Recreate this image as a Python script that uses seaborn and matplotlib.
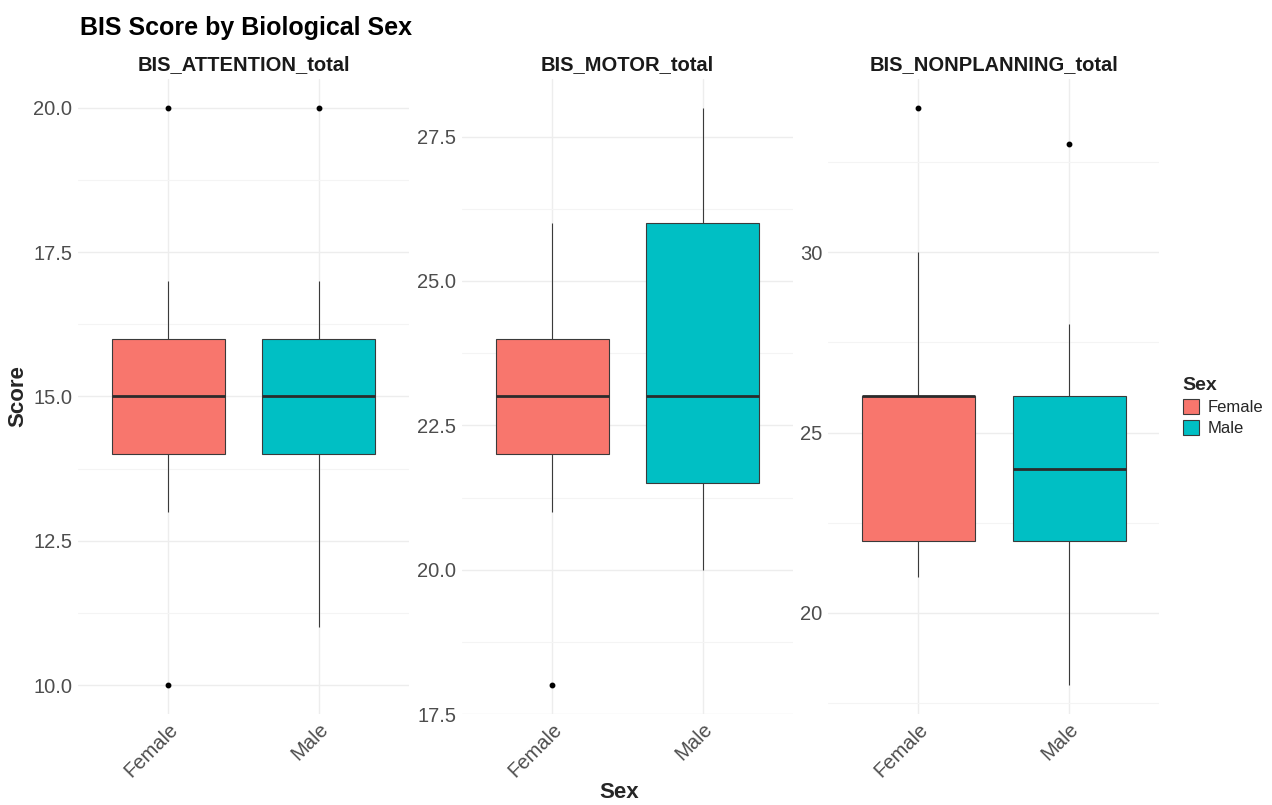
import matplotlib.pyplot as plt
import numpy as np
import pandas as pd
import seaborn as sb
from matplotlib.patches import Patch
from matplotlib.ticker import MultipleLocator, FormatStrFormatter

# raw scores (quartiles, whiskers, outliers)
measures = ["BIS_ATTENTION_total", "BIS_MOTOR_total", "BIS_NONPLANNING_total"]
sexes = ["Female", "Male"]
attention_female = [10, 13, 14, 14, 15, 15, 15, 16, 16, 17, 20]
attention_male = [11, 14, 14, 14, 15, 15, 15, 16, 16, 17, 20]
motor_female = [18, 21, 22, 22, 23, 23, 23, 24, 24, 25, 26]
motor_male = [20, 21, 21, 22, 23, 23, 24, 26, 26, 27, 28]
nonplanning_female = [21, 22, 22, 22, 24, 26, 26, 26, 26, 30, 34]
nonplanning_male = [18, 22, 22, 22, 23, 24, 25, 26, 26, 28, 33]
colors = {"Female": "#F8766D", "Male": "#00BFC4"}

scores = {
    ("BIS_ATTENTION_total", "Female"): attention_female,
    ("BIS_ATTENTION_total", "Male"): attention_male,
    ("BIS_MOTOR_total", "Female"): motor_female,
    ("BIS_MOTOR_total", "Male"): motor_male,
    ("BIS_NONPLANNING_total", "Female"): nonplanning_female,
    ("BIS_NONPLANNING_total", "Male"): nonplanning_male,
}
rows = []
for (m, s), vals in scores.items():
    for v in vals:
        rows.append({"Measure": m, "Sex": s, "Score": v})
df = pd.DataFrame(rows)

sb.set_style("white")
plt.rcParams["font.family"] = ["Liberation Sans", "DejaVu Sans"]

fig = plt.figure(figsize=(12.72, 8.05), dpi=100)
lefts = [0.0613, 0.3632, 0.651]
bottom, height, width = 0.113, 0.789, 0.2605
steps = [2.5, 2.5, 5]
fmts = ["%.1f", "%.1f", "%d"]

for i, m in enumerate(measures):
    ax = fig.add_axes([lefts[i], bottom, width, height])
    sub = df[df["Measure"] == m]
    sb.boxplot(data=sub, x="Sex", y="Score", hue="Sex", order=sexes, hue_order=sexes,
               palette=colors, saturation=1, dodge=False, width=0.75, legend=False, ax=ax,
               linecolor="#3A3A3A", linewidth=0.8, showcaps=False,
               medianprops={"linewidth": 2.0, "color": "#2B2B2B"},
               flierprops={"marker": "o", "markersize": 3.2, "markerfacecolor": "black",
                           "markeredgecolor": "black"})
    lo, hi = sub["Score"].min(), sub["Score"].max()
    pad = (hi - lo) * 0.05
    ax.set_ylim(lo - pad, hi + pad)
    ax.set_xlim(-0.6, 1.6)
    ax.yaxis.set_major_locator(MultipleLocator(steps[i]))
    ax.yaxis.set_minor_locator(MultipleLocator(steps[i] / 2))
    ax.yaxis.set_major_formatter(FormatStrFormatter(fmts[i]))
    ax.grid(True, which="major", color="#EDEDED", linewidth=1.0)
    ax.grid(True, which="minor", axis="y", color="#F4F4F4", linewidth=0.8)
    ax.set_axisbelow(True)
    for sp in ax.spines.values():
        sp.set_visible(False)
    ax.tick_params(axis="both", which="both", length=0, labelsize=14.5,
                   labelcolor="#4D4D4D", pad=4)
    for lab in ax.get_xticklabels():
        lab.set_rotation(45)
        lab.set_ha("right")
        lab.set_rotation_mode("anchor")
    ax.set_xlabel("")
    ax.set_ylabel("")
    ax.set_title(m, fontsize=14.5, fontweight="bold", color="#1A1A1A", pad=6)

fig.text(0.063, 0.965, "BIS Score by Biological Sex", fontsize=18, fontweight="bold",
         color="black", ha="left", va="center")
fig.text(0.487, 0.002, "Sex", fontsize=16, fontweight="bold", ha="center", va="bottom")
fig.text(0.006, 0.508, "Score", fontsize=16, fontweight="bold", rotation=90,
         ha="left", va="center")

handles = [Patch(facecolor=colors[s], edgecolor="#3A3A3A", linewidth=0.8, label=s) for s in sexes]
fig.legend(handles=handles, title="Sex", loc="center left", bbox_to_anchor=(0.918, 0.495),
           frameon=False, fontsize=12, title_fontproperties={"weight": "bold", "size": 14},
           handlelength=1.0, handleheight=1.0, handletextpad=0.5, labelspacing=0.3,
           alignment="left")

fig.savefig("out.png", dpi=100)
